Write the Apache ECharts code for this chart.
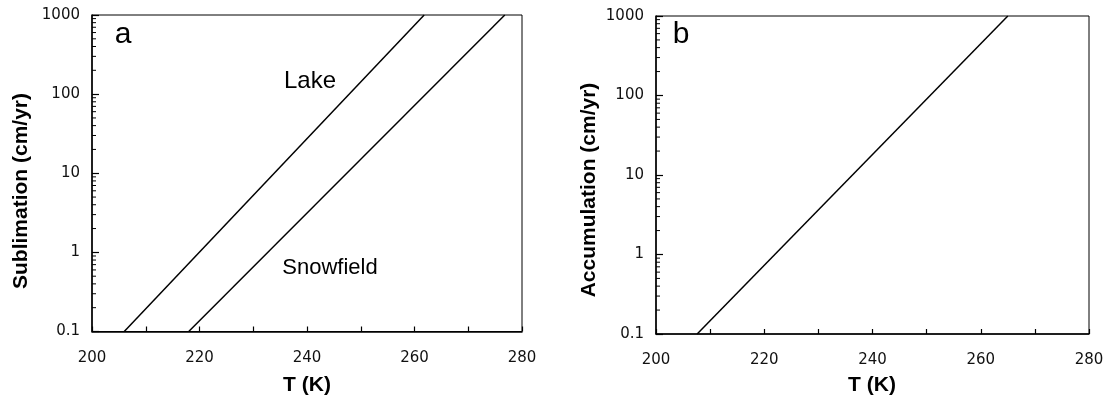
<!DOCTYPE html>
<html>
<head>
<meta charset="utf-8">
<script src="https://cdn.jsdelivr.net/npm/echarts@6/dist/echarts.min.js"></script>
<style>
  html, body { margin: 0; padding: 0; background: #fff; }
  #chart { width: 1110px; height: 398px; }
</style>
</head>
<body>
<div id="chart"></div>
<script>
// Temperature (K) at the two ends of each straight line on the log plot
const lakeT = [206.0, 261.8];
const lakeRate = [0.1, 1000];
const snowT = [218.0, 276.8];
const snowRate = [0.1, 1000];
const accT = [207.6, 265.0];
const accRate = [0.1, 1000];

// Minor log ticks (2..9 within each decade)
const minorTicks = [0.2, 0.3, 0.4, 0.5, 0.6, 0.7, 0.8, 0.9,
  2, 3, 4, 5, 6, 7, 8, 9,
  20, 30, 40, 50, 60, 70, 80, 90,
  200, 300, 400, 500, 600, 700, 800, 900];

const FONT = '"Liberation Sans", Arial, Helvetica, sans-serif';
const TICK_FONT = '"DejaVu Sans", "Liberation Sans", sans-serif';

const pairs = (xs, ys) => xs.map((x, i) => [x, ys[i]]);

function xAxisDef(idx) {
  return {
    type: 'value', gridIndex: idx, min: 200, max: 280, interval: 10,
    axisLine: { lineStyle: { color: '#000', width: 1.5 } },
    axisTick: { inside: true, length: 5, lineStyle: { color: '#000', width: 1.2 } },
    splitLine: { show: false },
    axisLabel: {
      margin: 19, color: '#111', fontFamily: TICK_FONT, fontSize: 15,
      formatter: v => (v % 20 === 0 ? String(v) : '')
    }
  };
}

function yAxisDef(idx) {
  return {
    type: 'log', gridIndex: idx, logBase: 10, min: 0.1, max: 1000,
    axisLine: { lineStyle: { color: '#000', width: 1.5 } },
    axisTick: { inside: true, length: 7, lineStyle: { color: '#000', width: 1.2 } },
    splitLine: { show: false },
    axisLabel: {
      margin: 12, color: '#111', fontFamily: TICK_FONT, fontSize: 15,
      formatter: v => (v < 1 ? '0.1' : String(Math.round(v)))
    }
  };
}

function minorTickSeries(idx) {
  return {
    type: 'custom', xAxisIndex: idx, yAxisIndex: idx, silent: true,
    data: minorTicks.map(v => [200, v]),
    renderItem: (params, api) => {
      const p = api.coord([api.value(0), api.value(1)]);
      return {
        type: 'line',
        shape: { x1: p[0], y1: p[1], x2: p[0] + 4, y2: p[1] },
        style: { stroke: '#000', lineWidth: 1 }
      };
    }
  };
}

function lineSeries(idx, data) {
  return {
    type: 'line', xAxisIndex: idx, yAxisIndex: idx, data: data,
    showSymbol: false, symbol: 'none', silent: true,
    lineStyle: { color: '#000', width: 1.5 }
  };
}

function label(text, x, y, size, weight, rotate) {
  return {
    type: 'text', x: x, y: y, rotation: rotate || 0,
    style: {
      text: text, fill: '#000', font: (weight || 'normal') + ' ' + size + 'px ' + FONT,
      align: 'center', verticalAlign: 'middle'
    }
  };
}

const chart = echarts.init(document.getElementById('chart'), null, { renderer: 'canvas' });
chart.setOption({
  animation: false,
  backgroundColor: '#fff',
  grid: [
    { left: 92, right: 588, top: 15, bottom: 66.5, show: true, borderColor: '#000', borderWidth: 1 },
    { left: 656, right: 21, top: 16, bottom: 64, show: true, borderColor: '#000', borderWidth: 1 }
  ],
  xAxis: [xAxisDef(0), xAxisDef(1)],
  yAxis: [yAxisDef(0), yAxisDef(1)],
  series: [
    lineSeries(0, pairs(lakeT, lakeRate)),
    lineSeries(0, pairs(snowT, snowRate)),
    lineSeries(1, pairs(accT, accRate)),
    minorTickSeries(0),
    minorTickSeries(1)
  ],
  graphic: [
    label('Sublimation (cm/yr)', 21, 191, 21, 'bold', Math.PI / 2),
    label('Accumulation (cm/yr)', 589, 190, 21, 'bold', Math.PI / 2),
    label('T (K)', 307, 385, 21, 'bold'),
    label('T (K)', 872, 385, 21, 'bold'),
    label('a', 123, 35, 30),
    label('b', 681, 35, 30),
    label('Lake', 310, 81, 24),
    label('Snowfield', 330, 268, 22)
  ]
});
</script>
</body>
</html>
